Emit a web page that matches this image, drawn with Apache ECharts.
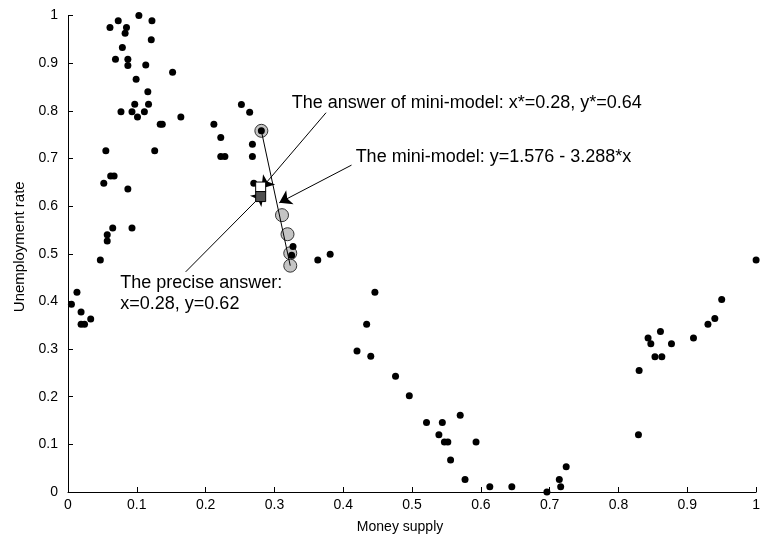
<!DOCTYPE html>
<html>
<head>
<meta charset="utf-8">
<script src="https://cdn.jsdelivr.net/npm/echarts@6/dist/echarts.min.js"></script>
<style>
  html, body { margin: 0; padding: 0; background: #fff; }
  #chart { width: 763px; height: 544px; }
</style>
</head>
<body>
<div id="chart"></div>
<script>
// Observed (money supply, unemployment rate) pairs
const observations = [
  [0.103, 1.000], [0.073, 0.989], [0.122, 0.989], [0.061, 0.975], [0.085, 0.975],
  [0.083, 0.963], [0.121, 0.949], [0.079, 0.933], [0.069, 0.908], [0.087, 0.908],
  [0.087, 0.895], [0.113, 0.896], [0.152, 0.881], [0.099, 0.866], [0.116, 0.840],
  [0.097, 0.814], [0.117, 0.814], [0.077, 0.798], [0.093, 0.798], [0.111, 0.798],
  [0.101, 0.787], [0.164, 0.787], [0.134, 0.772], [0.137, 0.772], [0.055, 0.716],
  [0.126, 0.716], [0.052, 0.648], [0.062, 0.663], [0.067, 0.663], [0.087, 0.636],
  [0.057, 0.540], [0.057, 0.527], [0.065, 0.554], [0.093, 0.554], [0.047, 0.487],
  [0.013, 0.419], [0.005, 0.394], [0.019, 0.378], [0.019, 0.352], [0.024, 0.352],
  [0.033, 0.363], [0.252, 0.813], [0.264, 0.797], [0.212, 0.772], [0.222, 0.744],
  [0.281, 0.758], [0.268, 0.730], [0.222, 0.704], [0.228, 0.704], [0.268, 0.704],
  [0.270, 0.648], [0.327, 0.515], [0.325, 0.497], [0.363, 0.487], [0.381, 0.499],
  [0.446, 0.419], [0.434, 0.352], [0.420, 0.296], [0.440, 0.285], [0.476, 0.243],
  [0.496, 0.202], [0.521, 0.146], [0.544, 0.146], [0.570, 0.161], [0.539, 0.120],
  [0.547, 0.105], [0.552, 0.105], [0.593, 0.105], [0.556, 0.067], [0.577, 0.026],
  [0.613, 0.011], [0.645, 0.011], [0.696, 0.000], [0.714, 0.026], [0.716, 0.011],
  [0.724, 0.053], [0.829, 0.120], [1.000, 0.487], [0.950, 0.404], [0.940, 0.364],
  [0.930, 0.352], [0.909, 0.323], [0.861, 0.337], [0.843, 0.323], [0.847, 0.311],
  [0.877, 0.311], [0.853, 0.284], [0.863, 0.284], [0.830, 0.255]
];

// Points used to fit the mini-model
const miniModelPoints = [
  [0.281, 0.758], [0.311, 0.581], [0.319, 0.541], [0.323, 0.501], [0.323, 0.475]
];

// Segment drawn through the mini-model points
const miniModelLine = [[0.281, 0.758], [0.323, 0.475]];

// Answers
const miniModelAnswer = [[0.28, 0.64]];
const preciseAnswer = [[0.28, 0.62]];

// Axis ticks
const xTickStep = 0.1;
const yTickStep = 0.1;

// Callout texts, anchored in data space, with their arrows
const calloutTexts = [
  'The answer of mini-model: x*=0.28, y*=0.64',
  'The mini-model: y=1.576 - 3.288*x',
  'The precise answer:\nx=0.28, y=0.62'
];
const calloutAnchors = [[0.325, 0.817], [0.418, 0.704], [0.076, 0.416]];
const calloutArrows = [
  [[0.375, 0.796], [0.281, 0.637]],
  [[0.412, 0.686], [0.307, 0.607]],
  [[0.171, 0.462], [0.285, 0.628]]
];

const FONT = '"Liberation Sans", Arial, Helvetica, sans-serif';
const chart = echarts.init(document.getElementById('chart'), null, { renderer: 'canvas' });

const axisCommon = {
  type: 'value',
  min: 0,
  max: 1,
  axisLine: { show: true, lineStyle: { color: '#000', width: 1 } },
  axisTick: { show: true, inside: true, length: 5, lineStyle: { color: '#000' } },
  splitLine: { show: false },
  axisLabel: { color: '#000', fontSize: 14, fontFamily: FONT },
  nameLocation: 'middle'
};

chart.setOption({
  animation: false,
  backgroundColor: '#fff',
  grid: { left: 68, right: 3.5, top: 15.5, bottom: 52, containLabel: false },
  xAxis: Object.assign({}, axisCommon, {
    interval: xTickStep,
    name: 'Money supply',
    nameGap: 28,
    nameTextStyle: { color: '#000', fontSize: 14, fontFamily: FONT, padding: [0, 24, 0, 0] },
    axisLabel: Object.assign({}, axisCommon.axisLabel, { margin: 6 })
  }),
  yAxis: Object.assign({}, axisCommon, {
    interval: yTickStep,
    name: 'Unemployment rate',
    nameGap: 20,
    nameTextStyle: { color: '#000', fontSize: 15, fontFamily: FONT, padding: [0, 0, 0, 14] },
    axisLabel: Object.assign({}, axisCommon.axisLabel, { margin: 10 })
  }),
  series: [
    {
      name: 'mini-model points',
      type: 'scatter',
      data: miniModelPoints,
      symbol: 'circle',
      symbolSize: 13,
      itemStyle: { color: '#c4c4c4', borderColor: '#333', borderWidth: 1, opacity: 1 },
      z: 2,
      silent: true
    },
    {
      name: 'mini-model',
      type: 'line',
      data: miniModelLine,
      showSymbol: false,
      symbol: 'none',
      lineStyle: { color: '#000', width: 1 },
      z: 3,
      silent: true,
      markLine: {
        silent: true,
        symbol: ['none', 'arrow'],
        symbolSize: 12,
        label: { show: false },
        lineStyle: { color: '#000', width: 1, type: 'solid' },
        data: calloutArrows.map(a => [{ coord: a[0] }, { coord: a[1] }])
      }
    },
    {
      name: 'observations',
      type: 'scatter',
      data: observations,
      symbol: 'circle',
      symbolSize: 7,
      itemStyle: { color: '#000', opacity: 1 },
      z: 4,
      clip: false,
      silent: true
    },
    {
      name: 'answer of mini-model',
      type: 'scatter',
      data: miniModelAnswer,
      symbol: 'rect',
      symbolSize: 10,
      itemStyle: { color: '#fff', borderColor: '#000', borderWidth: 1, opacity: 1 },
      z: 5,
      silent: true
    },
    {
      name: 'precise answer',
      type: 'scatter',
      data: preciseAnswer,
      symbol: 'rect',
      symbolSize: 10,
      itemStyle: { color: '#505050', borderColor: '#000', borderWidth: 1, opacity: 1 },
      z: 5,
      silent: true
    }
  ]
});

// Place callout texts after the scales exist
const texts = calloutTexts.map((t, i) => {
  const p = chart.convertToPixel({ gridIndex: 0 }, calloutAnchors[i]);
  return {
    type: 'text',
    x: p[0],
    y: p[1],
    z: 10,
    style: {
      text: t,
      fill: '#000',
      font: '18px ' + FONT,
      lineHeight: 21,
      align: 'left',
      verticalAlign: 'middle'
    }
  };
});
chart.setOption({ graphic: texts });
</script>
</body>
</html>
